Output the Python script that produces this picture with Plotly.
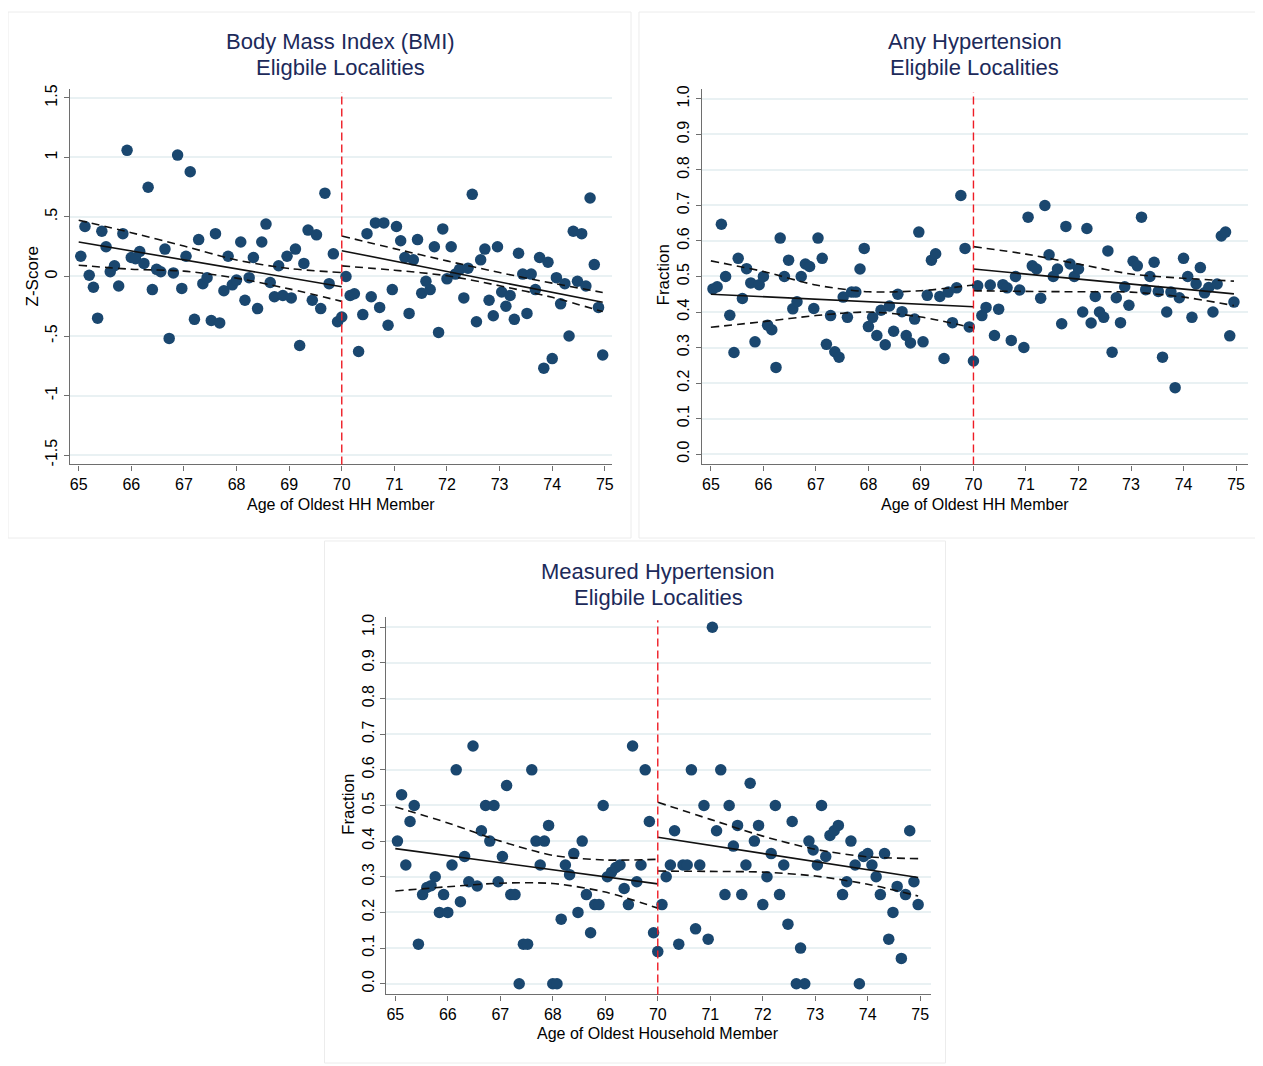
import plotly.graph_objects as go

# ---------------- data ----------------
AGE_LEFT = [65.04, 65.12, 65.20, 65.28, 65.36, 65.44, 65.52, 65.60, 65.68, 65.76, 65.84, 65.92,
            66.00, 66.08, 66.16, 66.24, 66.32, 66.40, 66.48, 66.56, 66.64, 66.72, 66.80, 66.88,
            66.96, 67.04, 67.12, 67.20, 67.28, 67.36, 67.44, 67.52, 67.60, 67.68, 67.76, 67.84,
            67.92, 68.00, 68.08, 68.16, 68.24, 68.32, 68.40, 68.48, 68.56, 68.64, 68.72, 68.80,
            68.88, 68.96, 69.04, 69.12, 69.20, 69.28, 69.36, 69.44, 69.52, 69.60, 69.68, 69.76,
            69.84, 69.92, 70.00]
AGE_RIGHT = [70.08, 70.16, 70.24, 70.32, 70.40, 70.48, 70.56, 70.64, 70.72, 70.80, 70.88, 70.96,
             71.04, 71.12, 71.20, 71.28, 71.36, 71.44, 71.52, 71.60, 71.68, 71.76, 71.84, 71.92,
             72.00, 72.08, 72.16, 72.24, 72.32, 72.40, 72.48, 72.56, 72.64, 72.72, 72.80, 72.88,
             72.96, 73.04, 73.12, 73.20, 73.28, 73.36, 73.44, 73.52, 73.60, 73.68, 73.76, 73.84,
             73.92, 74.00, 74.08, 74.16, 74.24, 74.32, 74.40, 74.48, 74.56, 74.64, 74.72, 74.80,
             74.88, 74.96]

BMI_LEFT = [0.17, 0.42, 0.01, -0.09, -0.35, 0.38, 0.25, 0.04, 0.09, -0.08,
            0.36, 1.06, 0.16, 0.15, 0.21, 0.11, 0.75, -0.11, 0.06, 0.04,
            0.23, -0.52, 0.03, 1.02, -0.10, 0.17, 0.88, -0.36, 0.31, -0.06,
            -0.01, -0.37, 0.36, -0.39, -0.12, 0.17, -0.07, -0.03, 0.29, -0.20,
            -0.01, 0.16, -0.27, 0.29, 0.44, -0.05, -0.17, 0.09, -0.16, 0.17,
            -0.18, 0.23, -0.58, 0.11, 0.39, -0.20, 0.35, -0.27, 0.70, -0.06,
            0.19, -0.38, -0.34]
BMI_RIGHT = [0.00, -0.16, -0.145, -0.63, -0.32, 0.36, -0.17, 0.45, -0.26, 0.45,
             -0.41, -0.11, 0.42, 0.30, 0.16, -0.31, 0.14, 0.31, -0.14, -0.04,
             -0.11, 0.25, -0.47, 0.40, -0.02, 0.25, 0.02, 0.06, -0.18, 0.07,
             0.69, -0.38, 0.14, 0.23, -0.20, -0.33, 0.25, -0.13, -0.25, -0.16,
             -0.36, 0.195, 0.02, -0.31, 0.02, -0.11, 0.16, -0.77, 0.12, -0.69,
             -0.01, -0.23, -0.06, -0.50, 0.38, -0.04, 0.36, -0.08, 0.66, 0.10,
             -0.26, -0.66]

ANYHT_LEFT = [0.465, 0.471, 0.647, 0.50, 0.391, 0.286, 0.551, 0.438, 0.522, 0.482,
              0.316, 0.477, 0.50, 0.363, 0.350, 0.244, 0.608, 0.50, 0.546, 0.409,
              0.429, 0.50, 0.535, 0.528, 0.410, 0.608, 0.551, 0.309, 0.390, 0.288,
              0.273, 0.442, 0.385, 0.456, 0.456, 0.521, 0.579, 0.359, 0.385, 0.334,
              0.405, 0.308, 0.417, 0.346, 0.450, 0.401, 0.334, 0.313, 0.380, 0.625,
              0.316, 0.447, 0.546, 0.564, 0.444, 0.269, 0.456, 0.370, 0.468, 0.728,
              0.579, 0.358, 0.262]
ANYHT_RIGHT = [0.474, 0.390, 0.413, 0.476, 0.334, 0.408, 0.477, 0.468, 0.320, 0.50,
               0.462, 0.300, 0.667, 0.530, 0.521, 0.439, 0.70, 0.561, 0.50, 0.521,
               0.367, 0.641, 0.535, 0.50, 0.521, 0.40, 0.635, 0.369, 0.444, 0.40,
               0.385, 0.572, 0.287, 0.440, 0.370, 0.471, 0.419, 0.543, 0.530, 0.667,
               0.463, 0.50, 0.540, 0.458, 0.273, 0.40, 0.456, 0.187, 0.440, 0.551,
               0.50, 0.385, 0.479, 0.525, 0.454, 0.469, 0.40, 0.479, 0.614, 0.625,
               0.333, 0.428]

MEASHT_LEFT = [0.40, 0.53, 0.333, 0.455, 0.50, 0.111, 0.25, 0.27, 0.275, 0.30,
               0.20, 0.25, 0.20, 0.333, 0.60, 0.23, 0.357, 0.286, 0.667, 0.274,
               0.429, 0.50, 0.40, 0.50, 0.286, 0.357, 0.556, 0.25, 0.25, 0.0,
               0.111, 0.111, 0.60, 0.40, 0.333, 0.40, 0.444, 0.0, 0.0, 0.181,
               0.333, 0.306, 0.365, 0.20, 0.40, 0.25, 0.143, 0.222, 0.222, 0.50,
               0.30, 0.313, 0.326, 0.333, 0.267, 0.222, 0.667, 0.286, 0.333, 0.60,
               0.455, 0.143, 0.09]
MEASHT_RIGHT = [0.222, 0.30, 0.333, 0.429, 0.111, 0.333, 0.333, 0.60, 0.154, 0.333,
                0.50, 0.125, 1.0, 0.429, 0.60, 0.25, 0.50, 0.386, 0.444, 0.25,
                0.333, 0.5625, 0.40, 0.444, 0.222, 0.30, 0.365, 0.50, 0.25, 0.333,
                0.167, 0.455, 0.0, 0.10, 0.0, 0.40, 0.375, 0.333, 0.50, 0.357,
                0.416, 0.429, 0.444, 0.25, 0.286, 0.40, 0.333, 0.0, 0.357, 0.365,
                0.333, 0.30, 0.25, 0.365, 0.125, 0.20, 0.273, 0.071, 0.25, 0.429,
                0.286, 0.222]

# fitted lines (endpoints) and confidence bands (read at whole years)
FIT_X_LEFT = [65.0, 70.0]
FIT_X_RIGHT = [70.0, 74.96]
CI_X_LEFT = [65.0, 66.0, 67.0, 68.0, 69.0, 70.0]
CI_X_RIGHT = [70.0, 71.0, 72.0, 73.0, 74.0, 74.96]

BMI_FIT_L = [0.29, -0.086]
BMI_FIT_R = [0.217, -0.217]
BMI_UP_L = [0.473, 0.368, 0.256, 0.139, 0.067, 0.033]
BMI_LO_L = [0.095, 0.061, 0.045, -0.014, -0.104, -0.209]
BMI_UP_R = [0.34, 0.234, 0.131, 0.033, -0.056, -0.134]
BMI_LO_R = [0.089, 0.053, 0.006, -0.078, -0.175, -0.295]

ANY_FIT_L = [0.45, 0.415]
ANY_FIT_R = [0.521, 0.451]
ANY_UP_L = [0.544, 0.514, 0.476, 0.457, 0.460, 0.476]
ANY_LO_L = [0.357, 0.373, 0.390, 0.400, 0.386, 0.355]
ANY_UP_R = [0.584, 0.563, 0.535, 0.507, 0.495, 0.487]
ANY_LO_R = [0.460, 0.458, 0.457, 0.456, 0.442, 0.418]

MEA_FIT_L = [0.379, 0.28]
MEA_FIT_R = [0.411, 0.298]
MEA_UP_L = [0.496, 0.451, 0.400, 0.360, 0.347, 0.349]
MEA_LO_L = [0.260, 0.272, 0.282, 0.281, 0.257, 0.212]
MEA_UP_R = [0.509, 0.461, 0.414, 0.377, 0.356, 0.351]
MEA_LO_R = [0.316, 0.315, 0.313, 0.302, 0.279, 0.246]

TITLES = [("Body Mass Index (BMI)", "Eligbile Localities"),
          ("Any Hypertension", "Eligbile Localities"),
          ("Measured Hypertension", "Eligbile Localities")]
XTITLES = ["Age of Oldest HH Member", "Age of Oldest HH Member", "Age of Oldest Household Member"]
YTITLES = ["Z-Score", "Fraction", "Fraction"]
X_TICKS = [65, 66, 67, 68, 69, 70, 71, 72, 73, 74, 75]
BMI_TICKS = [-1.5, -1, -0.5, 0, 0.5, 1, 1.5]
BMI_TICKTEXT = ["-1.5", "-1", "-.5", "0", ".5", "1", "1.5"]
FR_TICKS = [0.0, 0.1, 0.2, 0.3, 0.4, 0.5, 0.6, 0.7, 0.8, 0.9, 1.0]
FR_TICKTEXT = ["0.0", "0.1", "0.2", "0.3", "0.4", "0.5", "0.6", "0.7", "0.8", "0.9", "1.0"]

# ---------------- style / layout ----------------
OFF = 8                      # default page margin of the html body
W, H = 1263 - OFF, 1066 - OFF
NARROW = "Liberation Sans Narrow, Arial Narrow, Liberation Sans, Arial, sans-serif"
REG = "Liberation Sans, Arial, sans-serif"
NAVY = "#1a476f"
TITLE_C = "#1c2a5a"
GRID_C = "#e9f1f3"
AXIS_C = "#6e6e6e"


def px(x):
    return (x - OFF) / W


def py(y):
    return 1 - (y - OFF) / H


# panel geometry in target-image pixels: (left, right, top, bottom), x range, y range
PANELS = [
    dict(box=(70, 613, 85, 463), xr=(64.833, 75.137), yr=(-1.579, 1.579)),
    dict(box=(703, 1250, 85, 463), xr=(64.829, 75.228), yr=(-0.029, 1.029)),
    dict(box=(387, 932, 616, 996), xr=(64.830, 75.196), yr=(-0.030, 1.030)),
]

SERIES = [
    (BMI_LEFT, BMI_RIGHT, BMI_FIT_L, BMI_FIT_R, BMI_UP_L, BMI_LO_L, BMI_UP_R, BMI_LO_R),
    (ANYHT_LEFT, ANYHT_RIGHT, ANY_FIT_L, ANY_FIT_R, ANY_UP_L, ANY_LO_L, ANY_UP_R, ANY_LO_R),
    (MEASHT_LEFT, MEASHT_RIGHT, MEA_FIT_L, MEA_FIT_R, MEA_UP_L, MEA_LO_L, MEA_UP_R, MEA_LO_R),
]

fig = go.Figure()
layout = dict(width=W, height=H, margin=dict(l=0, r=0, t=0, b=0),
              paper_bgcolor="white", plot_bgcolor="white", showlegend=False,
              annotations=[], shapes=[])

# faint panel frames
for (x0, y0, x1, y1) in [(8, 8, 632, 537), (640, 8, 1262, 537), (325, 540, 947, 1065)]:
    layout["shapes"].append(dict(type="rect", xref="paper", yref="paper",
                                 x0=px(x0), x1=px(x1), y0=py(y1), y1=py(y0),
                                 line=dict(color="#ececec", width=1), layer="below"))

for i, (p, s) in enumerate(zip(PANELS, SERIES)):
    n = "" if i == 0 else str(i + 1)
    xa, ya = "x" + n, "y" + n
    l, r, t, b = p["box"]
    ydata_l, ydata_r, fit_l, fit_r, up_l, lo_l, up_r, lo_r = s

    xaxis = dict(domain=[px(l), px(r)], range=list(p["xr"]), anchor=ya,
                 tickvals=X_TICKS, ticks="outside", ticklen=5, tickwidth=1, tickcolor=AXIS_C,
                 showline=True, linecolor=AXIS_C, linewidth=1.3, showgrid=False, zeroline=False,
                 tickfont=dict(family=NARROW, size=16, color="#000"))
    if i == 0:
        ytv, ytt = BMI_TICKS, BMI_TICKTEXT
    else:
        ytv, ytt = FR_TICKS, FR_TICKTEXT
    yaxis = dict(domain=[py(b), py(t)], range=list(p["yr"]), anchor=xa,
                 tickvals=ytv, ticktext=ytt, tickangle=-90, ticklabelstandoff=0,
                 ticks="outside", ticklen=5, tickwidth=1, tickcolor=AXIS_C,
                 showline=True, linecolor=AXIS_C, linewidth=1.3,
                 showgrid=True, gridcolor=GRID_C, gridwidth=1.6, zeroline=False,
                 tickfont=dict(family=REG, size=16, color="#000"))
    layout["xaxis" + n] = xaxis
    layout["yaxis" + n] = yaxis

    # scatter points
    for xs, ys in [(AGE_LEFT, ydata_l), (AGE_RIGHT, ydata_r)]:
        fig.add_trace(go.Scatter(x=xs, y=ys, mode="markers", xaxis=xa, yaxis=ya,
                                 marker=dict(color=NAVY, size=11.5, line=dict(width=0)),
                                 hoverinfo="skip"))
    # fitted lines
    for xs, ys in [(FIT_X_LEFT, fit_l), (FIT_X_RIGHT, fit_r)]:
        fig.add_trace(go.Scatter(x=xs, y=ys, mode="lines", xaxis=xa, yaxis=ya,
                                 line=dict(color="#111", width=1.6), hoverinfo="skip"))
    # confidence bands
    for xs, ys in [(CI_X_LEFT, up_l), (CI_X_LEFT, lo_l), (CI_X_RIGHT, up_r), (CI_X_RIGHT, lo_r)]:
        fig.add_trace(go.Scatter(x=xs, y=ys, mode="lines", xaxis=xa, yaxis=ya,
                                 line=dict(color="#111", width=1.6, dash="8px,5px", shape="spline",
                                           smoothing=0.8),
                                 hoverinfo="skip"))
    # cutoff line
    layout["shapes"].append(dict(type="line", xref=xa, yref=ya + " domain", x0=70, x1=70,
                                 y0=0, y1=0.99, line=dict(color="#ee1c25", width=1.4, dash="8px,4px")))

    cx = (l + r) / 2
    # titles
    t1, t2 = TITLES[i]
    ty = 38 if i < 2 else 571
    for txt, yy in [(t1, ty), (t2, ty + 26)]:
        layout["annotations"].append(dict(text=txt, xref="paper", yref="paper", x=px(cx), y=py(yy),
                                          xanchor="center", yanchor="middle", showarrow=False,
                                          font=dict(family=NARROW, size=22, color=TITLE_C)))
    # x title
    xty = 503 if i < 2 else 1035
    layout["annotations"].append(dict(text=XTITLES[i], xref="paper", yref="paper", x=px(cx), y=py(xty),
                                      xanchor="center", yanchor="middle", showarrow=False,
                                      font=dict(family=NARROW, size=16, color="#000")))
    # y title
    ytx = [33, 665, 349][i]
    yty = [274, 272, 805][i]
    layout["annotations"].append(dict(text=YTITLES[i], xref="paper", yref="paper", x=px(ytx), y=py(yty),
                                      xanchor="center", yanchor="middle", showarrow=False, textangle=-90,
                                      font=dict(family=REG, size=17, color="#000")))

fig.update_layout(**layout)
fig.write_html("out.html")
